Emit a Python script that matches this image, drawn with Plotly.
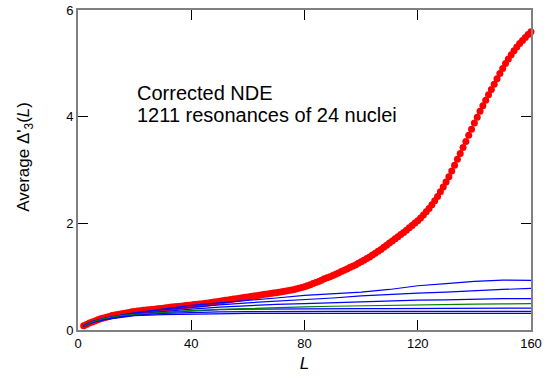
import plotly.graph_objects as go

# Average Delta'_3(L) for the corrected NDE set (red markers)
L_red = list(range(2, 161))
d3_red = [
    0.08, 0.105, 0.13, 0.15, 0.17, 0.19, 0.21, 0.225, 0.24,
    0.255, 0.27, 0.28, 0.29, 0.30, 0.31, 0.32, 0.33, 0.34, 0.345,
    0.355, 0.36, 0.37, 0.375, 0.38, 0.385, 0.39, 0.40, 0.405, 0.41,
    0.415, 0.42, 0.43, 0.435, 0.44, 0.445, 0.45, 0.46, 0.465, 0.47,
    0.476, 0.482, 0.488, 0.494, 0.50, 0.508, 0.516, 0.524, 0.532, 0.54,
    0.548, 0.556, 0.564, 0.572, 0.58, 0.588, 0.596, 0.604, 0.612, 0.62,
    0.628, 0.636, 0.644, 0.652, 0.66, 0.668, 0.676, 0.684, 0.692, 0.70,
    0.709, 0.718, 0.727, 0.736, 0.745, 0.757, 0.77, 0.784, 0.798, 0.812,
    0.83, 0.85, 0.87, 0.89, 0.91, 0.935, 0.96, 0.98, 1.00, 1.02,
    1.045, 1.07, 1.095, 1.12, 1.145, 1.17, 1.195, 1.22, 1.25, 1.28,
    1.31, 1.34, 1.37, 1.405, 1.44, 1.475, 1.51, 1.55, 1.59, 1.63,
    1.67, 1.71, 1.75, 1.79, 1.83, 1.87, 1.915, 1.96, 2.005, 2.05,
    2.10, 2.155, 2.215, 2.28, 2.35, 2.425, 2.505, 2.59, 2.68, 2.775,
    2.875, 2.98, 3.09, 3.20, 3.31, 3.42, 3.535, 3.65, 3.765, 3.88,
    3.99, 4.10, 4.205, 4.31, 4.41, 4.51, 4.61, 4.71, 4.81, 4.905,
    4.995, 5.08, 5.16, 5.235, 5.305, 5.37, 5.43, 5.485, 5.54, 5.59,
]

# Individual nuclei / reference curves, sampled in L
L_lines = [2, 5, 10, 15, 20, 30, 40, 50, 60, 70, 80, 90, 100, 110, 120, 130, 140, 150, 160]
blue_a = [0.08, 0.16, 0.23, 0.28, 0.32, 0.39, 0.46, 0.51, 0.55, 0.60, 0.65, 0.68, 0.71, 0.76, 0.83, 0.87, 0.91, 0.935, 0.93]
blue_b = [0.08, 0.16, 0.23, 0.28, 0.32, 0.38, 0.43, 0.47, 0.51, 0.54, 0.565, 0.60, 0.64, 0.67, 0.69, 0.71, 0.74, 0.76, 0.78]
blue_c = [0.07, 0.15, 0.22, 0.27, 0.30, 0.35, 0.39, 0.43, 0.46, 0.48, 0.495, 0.51, 0.53, 0.55, 0.56, 0.565, 0.58, 0.59, 0.59]
blue_e = [0.07, 0.15, 0.22, 0.26, 0.29, 0.33, 0.36, 0.38, 0.39, 0.395, 0.40, 0.40, 0.40, 0.40, 0.40, 0.405, 0.41, 0.41, 0.41]
blue_f = [0.07, 0.14, 0.21, 0.25, 0.28, 0.31, 0.33, 0.34, 0.345, 0.35, 0.35, 0.35, 0.35, 0.35, 0.35, 0.35, 0.35, 0.35, 0.35]
blue_g = [0.07, 0.14, 0.20, 0.24, 0.27, 0.29, 0.30, 0.31, 0.31, 0.31, 0.31, 0.31, 0.31, 0.31, 0.31, 0.31, 0.31, 0.31, 0.31]
green = [0.07, 0.155, 0.225, 0.27, 0.295, 0.335, 0.365, 0.385, 0.405, 0.42, 0.435, 0.445, 0.455, 0.465, 0.473, 0.48, 0.486, 0.49, 0.495]

x_ticks = [0, 40, 80, 120, 160]
y_ticks = [0, 2, 4, 6]

FONT = "Liberation Sans, Arial, sans-serif"
W, H = 552, 378
ML, MR, MT, MB = 78, 21, 3, 48
PW, PH = W - ML - MR, H - MT - MB


def px(x):
    return (x - ML) / PW


def py(y):
    return (H - MB - y) / PH


fig = go.Figure()

fig.add_trace(go.Scatter(
    x=L_red, y=d3_red, mode="markers",
    marker=dict(symbol="circle", size=7, color="#ff0000", line=dict(width=0)),
    cliponaxis=False, showlegend=False,
))

for ys in (blue_a, blue_b, blue_c, blue_e, blue_f, blue_g):
    fig.add_trace(go.Scatter(
        x=L_lines, y=ys, mode="lines",
        line=dict(color="#0000ff", width=1.2),
        showlegend=False,
    ))

fig.add_trace(go.Scatter(
    x=L_lines, y=green, mode="lines",
    line=dict(color="#008000", width=1.2),
    showlegend=False,
))

axis_common = dict(
    showgrid=False, zeroline=False,
    showline=True, linecolor="#808080", linewidth=2, mirror="ticks",
    ticks="inside", ticklen=10, tickwidth=1, tickcolor="#000000",
    tickfont=dict(family=FONT, size=13, color="#000000"),
    ticklabeloverflow="allow",
)

fig.update_xaxes(
    range=[0, 160], tickvals=x_ticks, ticktext=[str(v) for v in x_ticks],
    title=dict(text="<i>L</i>", font=dict(family=FONT, size=17, color="#000000"), standoff=8),
    **axis_common,
)
fig.update_yaxes(
    range=[0, 6], tickvals=y_ticks, ticktext=[str(v) for v in y_ticks],
    **axis_common,
)

fig.add_annotation(
    xref="paper", yref="paper", x=px(25), y=py(153),
    text="Average Δ'<sub>3</sub>(<i>L</i>)", textangle=-90,
    showarrow=False, xanchor="center", yanchor="middle",
    font=dict(family=FONT, size=17, color="#000000"),
)

for line_text, cy in (("Corrected NDE", 88), ("1211 resonances of 24 nuclei", 110)):
    fig.add_annotation(
        xref="paper", yref="paper", x=px(135), y=py(cy),
        text=line_text,
        showarrow=False, xanchor="left", yanchor="middle", align="left",
        font=dict(family=FONT, size=20, color="#000000"),
    )

fig.update_layout(
    width=W, height=H,
    margin=dict(l=ML, r=MR, t=MT, b=MB),
    paper_bgcolor="#ffffff", plot_bgcolor="#ffffff",
)

fig.write_html("out.html")
